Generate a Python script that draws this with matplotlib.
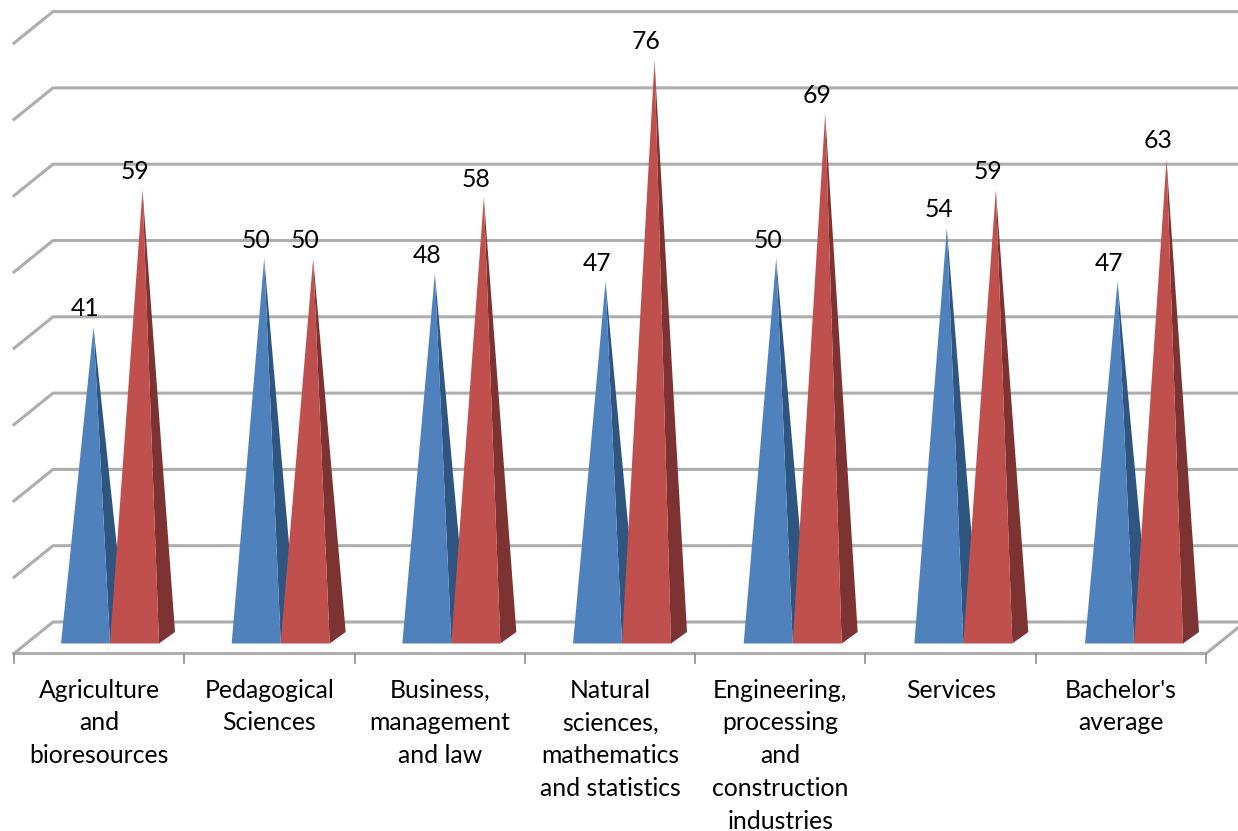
import matplotlib
matplotlib.use("Agg")
import matplotlib.pyplot as plt
from matplotlib.patches import Polygon

categories = ["Agriculture\nand\nbioresources", "Pedagogical\nSciences", "Business,\nmanagement\nand law",
              "Natural\nsciences,\nmathematics\nand statistics",
              "Engineering,\nprocessing\nand\nconstruction\nindustries", "Services", "Bachelor's\naverage"]
series_blue = [41, 50, 48, 47, 50, 54, 47]
series_red = [59, 50, 58, 76, 69, 59, 63]
grid_values = [0, 10, 20, 30, 40, 50, 60, 70, 80]

W, H = 1238, 831
PX_X = 170.3      # pixels per category
PX_Y = 7.63       # pixels per value unit
X0, Y0 = 14, 622  # left front edge (px) and back-wall zero (px)

fig = plt.figure(figsize=(W / 100, H / 100), dpi=100)
ax = fig.add_axes([0, 0, 1, 1])
ax.set_xlim(-X0 / PX_X, (W - X0) / PX_X)
ax.set_ylim((Y0 - H) / PX_Y, Y0 / PX_Y)
ax.axis("off")

dx = lambda px: px / PX_X
dy = lambda px: px / PX_Y
WALL_X, WALL_Y = dx(39), dy(31.5)
GRID = "#ADADAD"
n = len(categories)

for v in grid_values:
    ax.plot([0, WALL_X, n + WALL_X], [v - WALL_Y, v, v], color=GRID, lw=2.2, solid_joinstyle="round", zorder=1)
ax.plot([0, n, n + WALL_X], [-WALL_Y, -WALL_Y, 0], color=GRID, lw=2.2, zorder=1)
for i in range(n + 1):
    ax.plot([i, i], [-WALL_Y, -WALL_Y - dy(9)], color="#8C8C8C", lw=1.2, zorder=1)

BAR_W = dx(49)
LEFT = dx(47)
STEP = dx(170.67)
BASE = dy(-21.5)
SIDE_X, SIDE_Y = dx(16), dy(11.5)
SERIES = [(series_blue, "#4F81BD", "#2F5581"), (series_red, "#C0504D", "#7D3331")]

for i in range(n):
    for s, (vals, front, side) in enumerate(SERIES):
        xl = i * STEP + LEFT + s * BAR_W
        xr = xl + BAR_W
        apex = (xl + BAR_W / 2 + SIDE_X / 2, vals[i] + dy(-18))
        z = 3 + i + s * 0.5
        ax.add_patch(Polygon([(xr, BASE), (xr + SIDE_X, BASE + SIDE_Y), apex], closed=True,
                             facecolor=side, edgecolor="none", zorder=z))
        ax.add_patch(Polygon([(xl, BASE), (xr, BASE), apex], closed=True,
                             facecolor=front, edgecolor="none", zorder=z + 0.1))
        ax.annotate(str(vals[i]), xy=(xl + BAR_W / 2, apex[1]), xytext=(0, 13.2), textcoords="offset points",
                    ha="center", va="center", fontsize=17.8, family="Lato", color="black", zorder=30)

for i, label in enumerate(categories):
    for j, line in enumerate(label.split("\n")):
        ax.annotate(line, xy=(i + 0.5, -WALL_Y), xytext=(0, -(36.5 + 32.8 * j) * 0.72), textcoords="offset points",
                    ha="center", va="center", fontsize=17.8, family="Lato", color="black", annotation_clip=False)

fig.savefig("out.png", dpi=100)
